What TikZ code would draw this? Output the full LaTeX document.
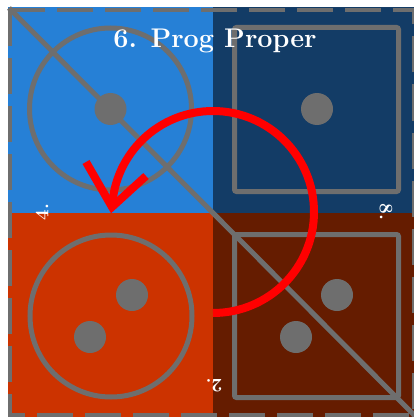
\documentclass[tikz,border=0pt]{standalone}
\usetikzlibrary{calc}
\definecolor{SkyBlue}{HTML}{2680D6}
\definecolor{DeepNavy}{HTML}{133C66}
\definecolor{Ember}{HTML}{CC3300}
\definecolor{Umber}{HTML}{651C00}
\definecolor{Stone}{HTML}{6E6E6E}
\definecolor{Signal}{HTML}{FF0000}

\begin{document}
\begin{tikzpicture}[x=1pt,y=1pt,yscale=-1,
    piece/.style={draw=Stone,line width=5pt},
    pip/.style={fill=Stone},
    rim/.style={draw=Stone,line width=4.5pt,dash pattern=on 36pt off 12pt},
    sidelabel/.style={text=white,font=\fontsize{19}{19}\selectfont\bfseries,inner sep=0pt},
    turn/.style={draw=Signal,line width=8pt},
    barb/.style={draw=Signal,line width=8pt,miter limit=4}]
    \useasboundingbox (0,0) rectangle (414,417);
    \fill[white] (0,0) rectangle (414,417);
    % board quarters
    \fill[SkyBlue]  (8,7)     rectangle (213,213);
    \fill[DeepNavy] (213,7)   rectangle (418,213);
    \fill[Ember]    (8,213)   rectangle (213,419);
    \fill[Umber]    (213,213) rectangle (418,419);
    % pieces
    \draw[piece] (110.5,109) circle (81);
    \fill[pip]   (110.5,109) circle (16);
    \draw[piece,rounded corners=2pt] (234.5,27.5) rectangle (398.5,191.5);
    \fill[pip]   (317,109) circle (16);
    \draw[piece] (111,316) circle (81);
    \fill[pip]   (132,295) circle (16);
    \fill[pip]   (90,337)  circle (16);
    \draw[piece,rounded corners=2pt] (234.5,234.5) rectangle (398.5,397.5);
    \fill[pip]   (337,295) circle (16);
    \fill[pip]   (296,337) circle (16);
    \draw[piece] (9,8) -- (420,421);
    \draw[rim] (10,10) rectangle (414.5,415);
    % the turn
    \coordinate (hub) at (213,212);
    \coordinate (tip) at (112,207);
    \draw[turn] ($(hub)+(0,101)$) arc[start angle=90,end angle=-177,radius=101];
    \draw[barb] ($(tip)+(-26,-45)$) -- (tip) -- ($(tip)+(34,-31)$);
    % sides
    \node[text=white,inner sep=0pt,font=\fontsize{27}{27}\selectfont\bfseries]
      (title) at (215,41) {6. Prog Proper};
    \node[sidelabel,rotate=90]  (side4) at (42,212)  {4.};
    \node[sidelabel,rotate=-90] (side8) at (386,212) {8.};
    \node[sidelabel,rotate=180] (side2) at (214,386) {2.};
\end{tikzpicture}
\end{document}
